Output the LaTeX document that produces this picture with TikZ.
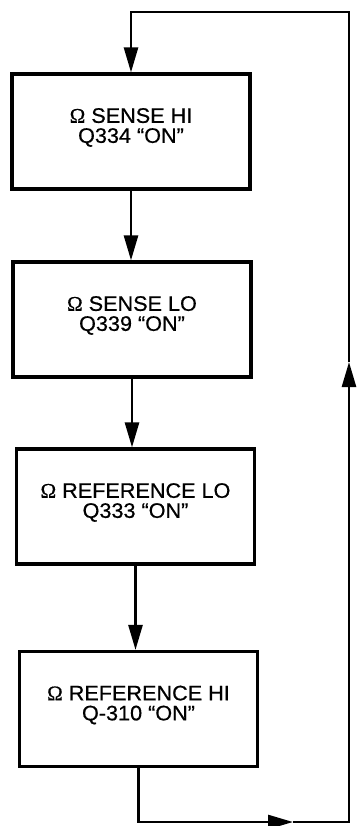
\documentclass[tikz,border=0pt]{standalone}
\usepackage{fontspec}
\setmainfont{Liberation Sans}[FakeStretch=1.03,FakeBold=0.6]
\newfontfamily\omfont{Liberation Serif}[FakeBold=0.6]
\usetikzlibrary{positioning,arrows.meta}
\newcommand{\omsym}{{\omfont Ω}}
\tikzset{
  fig/.style={font=\fontsize{21}{20}\selectfont},
  box/.style={draw,line width=3.2pt,minimum height=115pt,minimum width=238pt,
              align=center,inner sep=2pt,text depth=12pt},
  ln/.style={-{Triangle[length=25pt,width=14pt]},line width=2.6pt},
}

\begin{document}
\begin{tikzpicture}[fig,x=1pt,y=1pt]
\useasboundingbox (0,0) rectangle (359,-826);

% Boxes, top to bottom
\node[box] (shi) at (131,-131.5) {\omsym{} SENSE HI\\Q334 ``ON''};
\node[box] (slo) at (132,-319.5) {\omsym{} SENSE LO\\Q339 ``ON''};
\node[box] (rlo) at (135.5,-506.5) {\omsym{} REFERENCE LO\\Q333 ``ON''};
\node[box] (rhi) at (138.5,-709) {\omsym{} REFERENCE HI\\Q-310 ``ON''};

% Straight down
\draw[ln] (shi.south) -- (shi.south |- slo.north);
\draw[ln] (slo.south) -- (slo.south |- rlo.north);
\draw[ln] (rlo.south) -- (rlo.south |- rhi.north);

% Loop back round the right side
\coordinate (bm) at (293,-822);
\coordinate (br) at (349,-822);
\coordinate (rm) at (349,-362);
\coordinate (tr) at (349,-12);
\draw[ln] (rhi.south) |- (bm);
\draw[ln] (bm) -- (br) -- (rm);
\draw[ln] (rm) -- (tr) -| (shi.north);

\end{tikzpicture}
\end{document}
